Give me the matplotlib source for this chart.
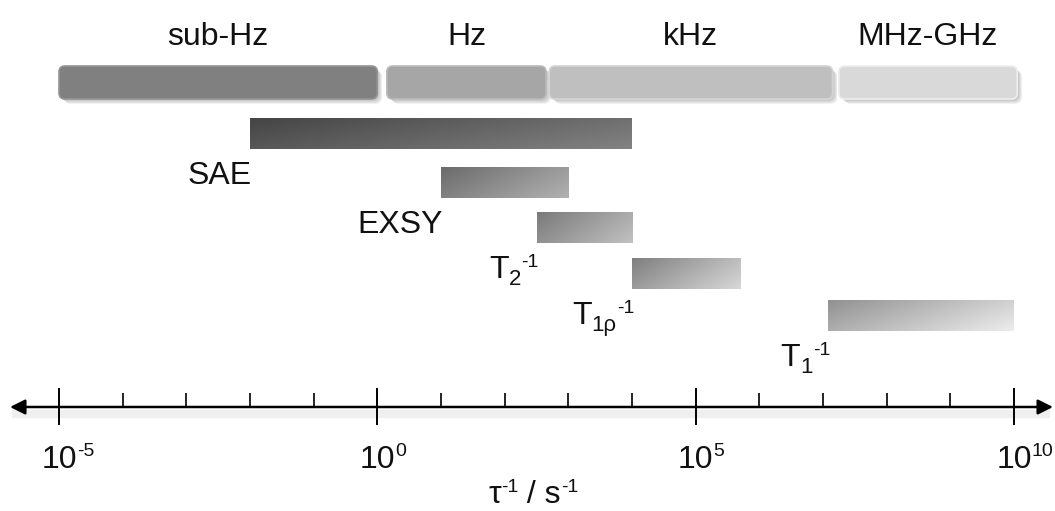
import numpy as np
import matplotlib
matplotlib.use("Agg")
import matplotlib.pyplot as plt
from matplotlib.patches import FancyBboxPatch

plt.rcParams['font.family'] = ['Liberation Sans', 'DejaVu Sans']

# frequency regimes along the top (log10 of rate in s^-1)
band_names = ["sub-Hz", "Hz", "kHz", "MHz-GHz"]
band_lo = [-5.0, 0.15, 2.7, 7.25]
band_hi = [0.0, 2.65, 7.15, 10.05]
band_gray = [0.50, 0.65, 0.75, 0.85]

# NMR methods and the rate windows they cover (s^-1)
method_base = ["SAE", "EXSY", "T", "T", "T"]
method_sub = ["", "", "2", "1ρ", "1"]
method_sup = ["", "", "-1", "-1", "-1"]
rate_lo = [1e-2, 1e1, 10**2.5, 1e4, 1.2e7]
rate_hi = [1e4, 1e3, 1e4, 10**5.7, 1e10]
shade_start = [0.27, 0.42, 0.48, 0.50, 0.57]
shade_end = [0.48, 0.66, 0.72, 0.80, 0.88]

tick_major = [-5, 0, 5, 10]
tick_minor = [e for e in range(-5, 11) if e not in tick_major]

FS = 23      # main text size
FS_SUB = 16
FS_SUP = 14
INK = "#111111"

fig = plt.figure(figsize=(10.55, 5.11), dpi=100)
ax = fig.add_axes([0, 0, 1, 1])
ppd = 955 / 15.0  # pixels per decade
ax.set_xlim(-5 - 59 / ppd, 10 + 41 / ppd)
ax.set_ylim(511, 0)
ax.axis("off")
renderer = fig.canvas.get_renderer()


def rich_text(segments, x, y, anchor="left"):
    # segments: (string, fontsize, rise in px); y is the baseline in data units
    bx, by = ax.transData.transform((x, y))
    arts, widths = [], []
    for s, size, rise in segments:
        t = ax.text(0, 0, s, fontsize=size, ha="left", va="baseline",
                    color=INK, zorder=5)
        arts.append((t, rise))
        widths.append(t.get_window_extent(renderer).width)
    total = sum(widths)
    if anchor == "right":
        cur = bx - total
    elif anchor == "center":
        cur = bx - total / 2
    elif anchor == "first":
        cur = bx - widths[0] / 2
    else:
        cur = bx
    inv = ax.transData.inverted()
    for (t, rise), w in zip(arts, widths):
        t.set_position(inv.transform((cur, by + rise)))
        cur += w


# top regime bands with soft drop shadow
band_top, band_h = 66, 33
for lo, hi, g, name in zip(band_lo, band_hi, band_gray, band_names):
    for k in range(6):
        sh = FancyBboxPatch((lo + (2 + k * 0.6) / ppd, band_top + 2 + k * 0.6),
                            hi - lo, band_h,
                            boxstyle="round,pad=0,rounding_size=%f" % (7 / ppd),
                            mutation_aspect=ppd, fc="0.3", ec="none",
                            alpha=0.05, zorder=1)
        ax.add_patch(sh)
    box = FancyBboxPatch((lo, band_top), hi - lo, band_h,
                         boxstyle="round,pad=0,rounding_size=%f" % (6 / ppd),
                         mutation_aspect=ppd, fc=str(g), ec=str(min(g + 0.08, 1)),
                         lw=1.2, zorder=2)
    ax.add_patch(box)
    ax.text((lo + hi) / 2, 45, name, ha="center", va="baseline",
            fontsize=FS, color=INK)

# gradient bars for each method, label tucked under the left end
row_top = [118, 167, 212, 258, 300]
bar_h = 31
for i in range(len(method_base)):
    x0, x1 = np.log10(rate_lo[i]), np.log10(rate_hi[i])
    top = row_top[i]
    c0, c1 = shade_start[i], shade_end[i]
    u = np.linspace(0, 1, 200)[None, :]
    v = np.linspace(0, 1, 40)[:, None]
    shade = c0 + (c1 - c0) * (0.8 * u + 0.35 * v)
    ax.imshow(np.clip(shade, 0, 1), cmap="gray", vmin=0, vmax=1, aspect="auto",
              extent=[x0, x1, top + bar_h, top], interpolation="bilinear",
              zorder=3)
    segs = [(method_base[i], FS, 0)]
    if method_sub[i]:
        segs.append((method_sub[i], FS_SUB, -7))
    if method_sup[i]:
        segs.append((method_sup[i], FS_SUP, 11))
    rich_text(segs, x0 + 2 / ppd, top + bar_h + 35, anchor="right")

# axis line with arrows at both ends
axis_y = 407
ax.plot([-5 - 47 / ppd, 10 + 36 / ppd], [axis_y + 7, axis_y + 7],
        color="0.5", lw=6, alpha=0.12, solid_capstyle="butt", zorder=1)
ax.annotate("", xy=(10 + 39 / ppd, axis_y), xytext=(-5 - 49 / ppd, axis_y),
            arrowprops=dict(arrowstyle="<|-|>,head_length=0.9,head_width=0.45",
                            color="black", lw=1.8, shrinkA=0, shrinkB=0),
            zorder=4)
ax.vlines(tick_major, 388, 425, color="black", lw=1.4, zorder=4)
ax.vlines(tick_minor, 393, axis_y, color="black", lw=1.2, zorder=4)
for e in tick_major:
    rich_text([("10", FS, 0), ("%d" % e, FS_SUP, 12)], e, 468, anchor="first")

rich_text([("τ", FS, 0), ("-1", FS_SUP, 11), (" / s", FS, 0), ("-1", FS_SUP, 11)],
          2.45, 503, anchor="center")

fig.savefig("out.png", dpi=100)
